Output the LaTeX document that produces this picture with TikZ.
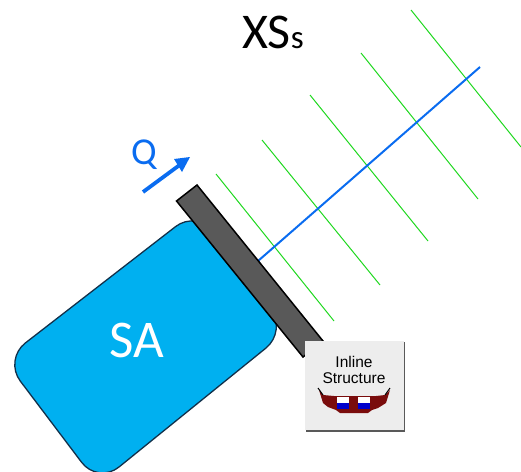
\documentclass[tikz,border=0pt]{standalone}
\usepackage{fontspec}
\setmainfont{Carlito}
\newfontfamily\btnfont{Liberation Sans}
\definecolor{saBlue}{HTML}{00B0F0}
\definecolor{saEdge}{HTML}{12304A}
\definecolor{flowBlue}{HTML}{0A6CF0}
\definecolor{xsGreen}{HTML}{1FD81F}
\definecolor{barGrey}{HTML}{595959}
\definecolor{btnGrey}{HTML}{EDEDED}
\definecolor{weirRed}{HTML}{7A0C0C}
\tikzset{
  xsline/.style={draw=xsGreen,line width=1pt},
  flowline/.style={draw=flowBlue,line width=2pt},
  lbl/.style={inner sep=0pt,anchor=center}
}
\begin{document}
\begin{tikzpicture}[x=1pt,y=-1pt]
\useasboundingbox (0,0) rectangle (521,471);
% storage area
\begin{scope}
\clip (0,0) rectangle (521,471);
\draw[fill=saBlue,draw=saEdge,line width=1.3pt,rounded corners=27pt]
  (4,359.5) -- (197,210) -- (287,331) -- (98,484) -- cycle;
\end{scope}
% flow line and cross sections
\coordinate (fs) at (258,261); \coordinate (fe) at (480,67);
\foreach \n/\a/\b/\c/\d in {1/216/174/334/321,2/262/140/380/285,3/310/95/428/241,4/361/53/478/199,5/411/10/521/147}{
  \coordinate (g\n a) at (\a,\b); \coordinate (g\n b) at (\c,\d);
  \draw[xsline] (g\n a) -- (g\n b);
}
\draw[flowline] (fs) -- (fe);
% bar
\draw[fill=barGrey,draw=black,line width=1.5pt,line join=miter]
  (176.5,201) -- (197,185) -- (323,341) -- (303,357) -- cycle;
% Q arrow
\coordinate (qa) at (143,192); \coordinate (qb) at (181,164); \coordinate (qt) at (190,157);
\draw[draw=flowBlue,line width=3.8pt] (qa) -- (qb);
\fill[flowBlue] (190,157) -- (174,159) -- (182,172) -- cycle;
% labels
\node[lbl,text=flowBlue,font=\fontsize{38}{40}\selectfont] (q) at (144,155) {Q};
\node[lbl,text=white,font=\fontsize{53}{56}\selectfont] (sa) at (137,340) {SA};
\node[lbl,text=black,font=\fontsize{50}{54}\selectfont] (xs) at (273,32) {XS\fontsize{33}{36}\selectfont s};
% button
\fill[gray!70!black] (306,342) rectangle (405,432);
\fill[btnGrey] (305,341) rectangle (403.5,430);
\node[lbl,font=\btnfont\fontsize{15.5}{17}\selectfont,align=center] (btn) at (354,370) {Inline\\[-1pt]Structure};
\fill[weirRed] (319,390) -- (323,395) -- (334,396) -- (376,396) -- (385,395) -- (390,390) -- (386,403) -- (378,408) -- (372,410) -- (368,413) -- (340,413) -- (336,410) -- (328,407) -- (323,403) -- cycle;
\draw[black,line width=1pt] (318,388) -- (323,395) (390,388) -- (385,395);
\fill[white] (337,397) rectangle (349,403);
\fill[blue!80!black] (337,403) rectangle (349,409);
\fill[white] (358,397) rectangle (370,403);
\fill[blue!80!black] (358,403) rectangle (370,409);
\end{tikzpicture}
\end{document}
